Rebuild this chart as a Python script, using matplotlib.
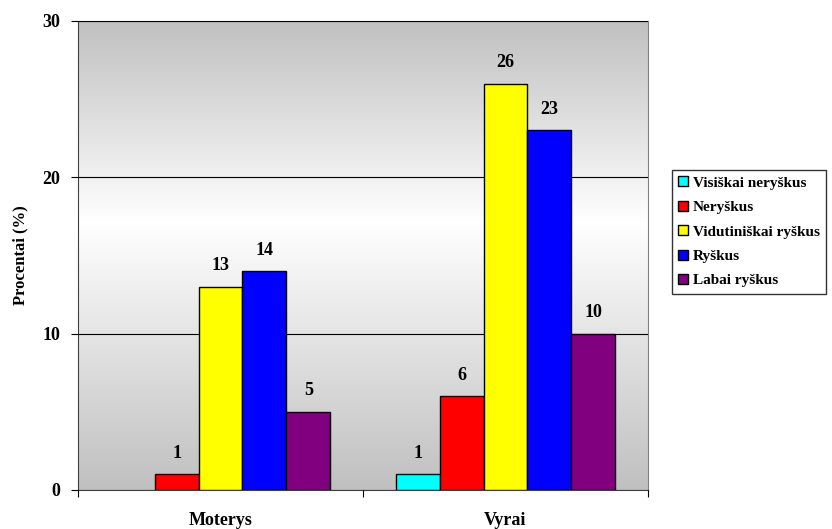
import numpy as np
import matplotlib.pyplot as plt
from matplotlib.colors import LinearSegmentedColormap

plt.rcParams['font.family'] = ['Liberation Serif', 'DejaVu Serif']
plt.rcParams['font.weight'] = 'bold'

groups = ['Moterys', 'Vyrai']
series = ['Visiškai neryškus', 'Neryškus', 'Vidutiniškai ryškus', 'Ryškus', 'Labai ryškus']
colors = ['#00ffff', '#ff0000', '#ffff00', '#0000ff', '#800080']
values = [
    [0, 1],    # Visiškai neryškus
    [1, 6],    # Neryškus
    [13, 26],  # Vidutiniškai ryškus
    [14, 23],  # Ryškus
    [5, 10],   # Labai ryškus
]

fig = plt.figure(figsize=(8.32, 5.29), dpi=100)
ax = fig.add_axes([78 / 832, 1 - 490 / 529, 570 / 832, 469 / 529])

# gradient background: grey - white - grey
cmap = LinearSegmentedColormap.from_list('bg', [(0, '#c0c0c0'), (0.57, '#ffffff'), (1, '#c0c0c0')])
grad = np.linspace(0, 1, 256).reshape(-1, 1)
ax.imshow(grad, aspect='auto', cmap=cmap, extent=[-0.5, 1.5, 0, 30], origin='lower', zorder=0)

n = len(series)
w = 0.154
x = np.arange(len(groups))
for i, (name, col, vals) in enumerate(zip(series, colors, values)):
    pos = x + (i - (n - 1) / 2) * w
    vals = np.array(vals, dtype=float)
    # zero bars are not drawn
    shown = np.where(vals > 0, vals, np.nan)
    ax.bar(pos, shown, w, color=col, edgecolor='black', linewidth=1, label=name, zorder=3)
    for p, v in zip(pos, vals):
        if v > 0:
            ax.text(p, v + 0.8, '%d' % v, ha='center', va='bottom', fontsize=13, fontweight='bold', zorder=4)

ax.set_xlim(-0.5, 1.5)
ax.set_ylim(0, 30)
ax.set_yticks([0, 10, 20, 30])
ax.set_yticklabels(['0', '10', '20', '30'], fontsize=13, fontweight='bold')
ax.set_xticks([-0.5, 0.5, 1.5])
ax.set_xticklabels([])
ax.set_xticks(x, minor=True)
ax.set_xticklabels(groups, minor=True, fontsize=13, fontweight='bold')
ax.tick_params(axis='x', which='minor', length=0, pad=16)
ax.tick_params(axis='x', which='major', length=5, direction='out')
ax.tick_params(axis='y', length=5, direction='out', pad=8)
ax.yaxis.grid(True, color='black', linewidth=0.8, zorder=1)
ax.set_axisbelow(False)
ax.set_ylabel('Procentai (%)', fontsize=12, fontweight='bold', labelpad=10)

for s in ['top', 'right']:
    ax.spines[s].set_color('#808080')
for s in ['left', 'bottom']:
    ax.spines[s].set_color('#404040')

leg = fig.legend(loc='upper left', bbox_to_anchor=(672 / 832, 1 - 170 / 529),
                 fontsize=11, frameon=True, fancybox=False, edgecolor='black',
                 handlelength=0.65, handleheight=0.65, handletextpad=0.3,
                 labelspacing=0.72, borderpad=0.4, borderaxespad=0)
leg.get_frame().set_linewidth(1)

fig.savefig('out.png', dpi=100)
